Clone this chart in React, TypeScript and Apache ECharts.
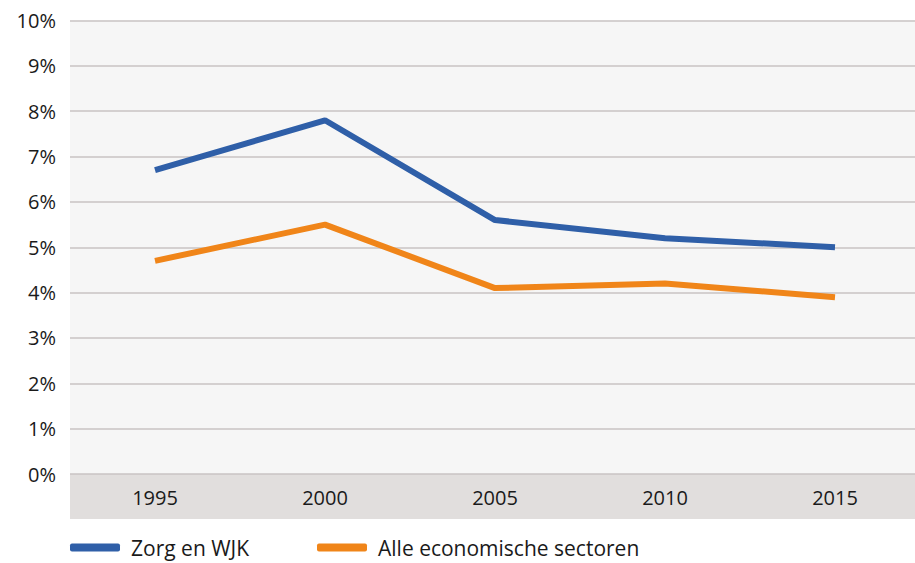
import React, { useEffect, useRef } from "react";
import * as echarts from "echarts";

const years = ["1995", "2000", "2005", "2010", "2015"];
const zorgWJK = [6.7, 7.8, 5.6, 5.2, 5.0];
const alleSectoren = [4.7, 5.5, 4.1, 4.2, 3.9];
const seriesNames = ["Zorg en WJK", "Alle economische sectoren"];

const FONT = "'Open Sans', 'Noto Sans', sans-serif";

export default function App() {
  const ref = useRef<HTMLDivElement>(null);
  useEffect(() => {
    document.body.style.margin = "0";
    const chart = echarts.init(ref.current!, null, { renderer: "svg" });
    const legendBase = {
      top: 537,
      padding: 0,
      itemWidth: 50,
      itemHeight: 8,
      icon: "roundRect",
      textStyle: {
        fontSize: 21,
        color: "#1a1a1a",
        fontFamily: FONT,
        padding: [0, 0, 0, 6],
      },
    };
    chart.setOption({
      animation: false,
      backgroundColor: "#ffffff",
      textStyle: { fontFamily: FONT },
      grid: {
        left: 70,
        top: 20.5,
        width: 850,
        height: 453.5,
        show: true,
        backgroundColor: "#f6f6f6",
        borderWidth: 0,
        containLabel: false,
      },
      graphic: [
        {
          type: "rect",
          left: 70,
          top: 474,
          shape: { width: 850, height: 45 },
          style: { fill: "#e1dedd" },
          z: 0,
        },
      ],
      legend: [
        { ...legendBase, left: 70, data: [seriesNames[0]] },
        { ...legendBase, left: 317, data: [seriesNames[1]] },
      ],
      xAxis: {
        type: "category",
        data: years,
        boundaryGap: true,
        axisLine: { show: false },
        axisTick: { show: false },
        axisLabel: { fontSize: 20, color: "#1a1a1a", margin: 13, fontFamily: FONT },
        z: 5,
      },
      yAxis: {
        type: "value",
        min: 0,
        max: 10,
        interval: 1,
        axisLine: { show: false },
        axisTick: { show: false },
        axisLabel: {
          formatter: "{value}%",
          fontSize: 20,
          color: "#1a1a1a",
          margin: 14,
          fontFamily: FONT,
        },
        splitLine: { lineStyle: { color: "#c8c3c3", width: 1.5 } },
      },
      series: [
        {
          name: seriesNames[0],
          type: "line",
          data: zorgWJK,
          symbol: "none",
          lineStyle: { color: "#2f5fa8", width: 6 },
          itemStyle: { color: "#2f5fa8" },
          z: 3,
        },
        {
          name: seriesNames[1],
          type: "line",
          data: alleSectoren,
          symbol: "none",
          lineStyle: { color: "#f08519", width: 6 },
          itemStyle: { color: "#f08519" },
          z: 2,
        },
      ],
    });
    return () => chart.dispose();
  }, []);
  return (
    <div style={{ width: 915, height: 563, overflow: "hidden", position: "relative" }}>
      <div ref={ref} style={{ width: 925, height: 563 }} />
    </div>
  );
}
